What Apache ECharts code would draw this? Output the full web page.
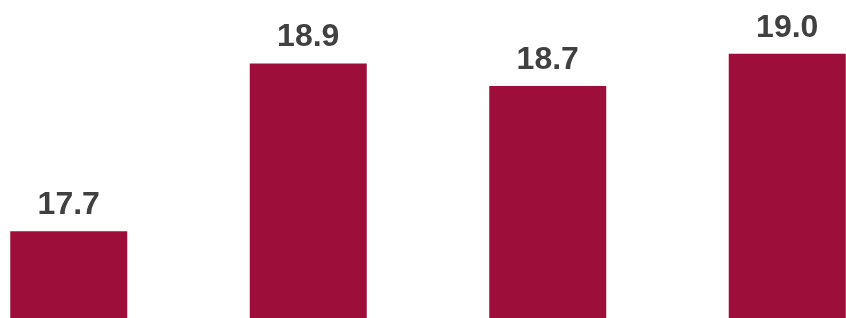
<!DOCTYPE html>
<html>
<head>
<meta charset="utf-8">
<script src="https://cdn.jsdelivr.net/npm/echarts@6/dist/echarts.min.js"></script>
<style>
  html, body { margin: 0; padding: 0; background: #fff; overflow: hidden; }
  #wrap { position: relative; width: 846px; height: 318px; overflow: hidden; }
  /* the plot is wider than the page, bars at the edges are clipped */
  #chart { position: absolute; left: -51px; top: 0; width: 958px; height: 318px; }
</style>
</head>
<body>
<div id="wrap"><div id="chart"></div></div>
<script>
// four periods, values (labels are rounded to 1 dp)
var categories = ['A', 'B', 'C', 'D'];
var values = [17.7, 18.9, 18.74, 18.97];

var chart = echarts.init(document.getElementById('chart'));
var option = {
    animation: false,
    grid: {
        left: 0,
        right: 0,
        top: 0,
        bottom: 0
    },
    xAxis: {
        type: 'category',
        data: categories,
        show: false
    },
    yAxis: {
        type: 'value',
        min: 17.08,
        max: 19.355,
        show: false
    },
    series: [
        {
            type: 'bar',
            data: values,
            barWidth: 117,
            itemStyle: {
                color: '#9E0E3A'
            },
            label: {
                show: true,
                position: 'top',
                distance: 10,
                color: '#404040',
                fontFamily: 'Liberation Sans, Arial, sans-serif',
                fontWeight: 'bold',
                fontSize: 32,
                formatter: function (p) {
                    return p.value.toFixed(1);
                }
            }
        }
    ]
};
chart.setOption(option);
</script>
</body>
</html>
